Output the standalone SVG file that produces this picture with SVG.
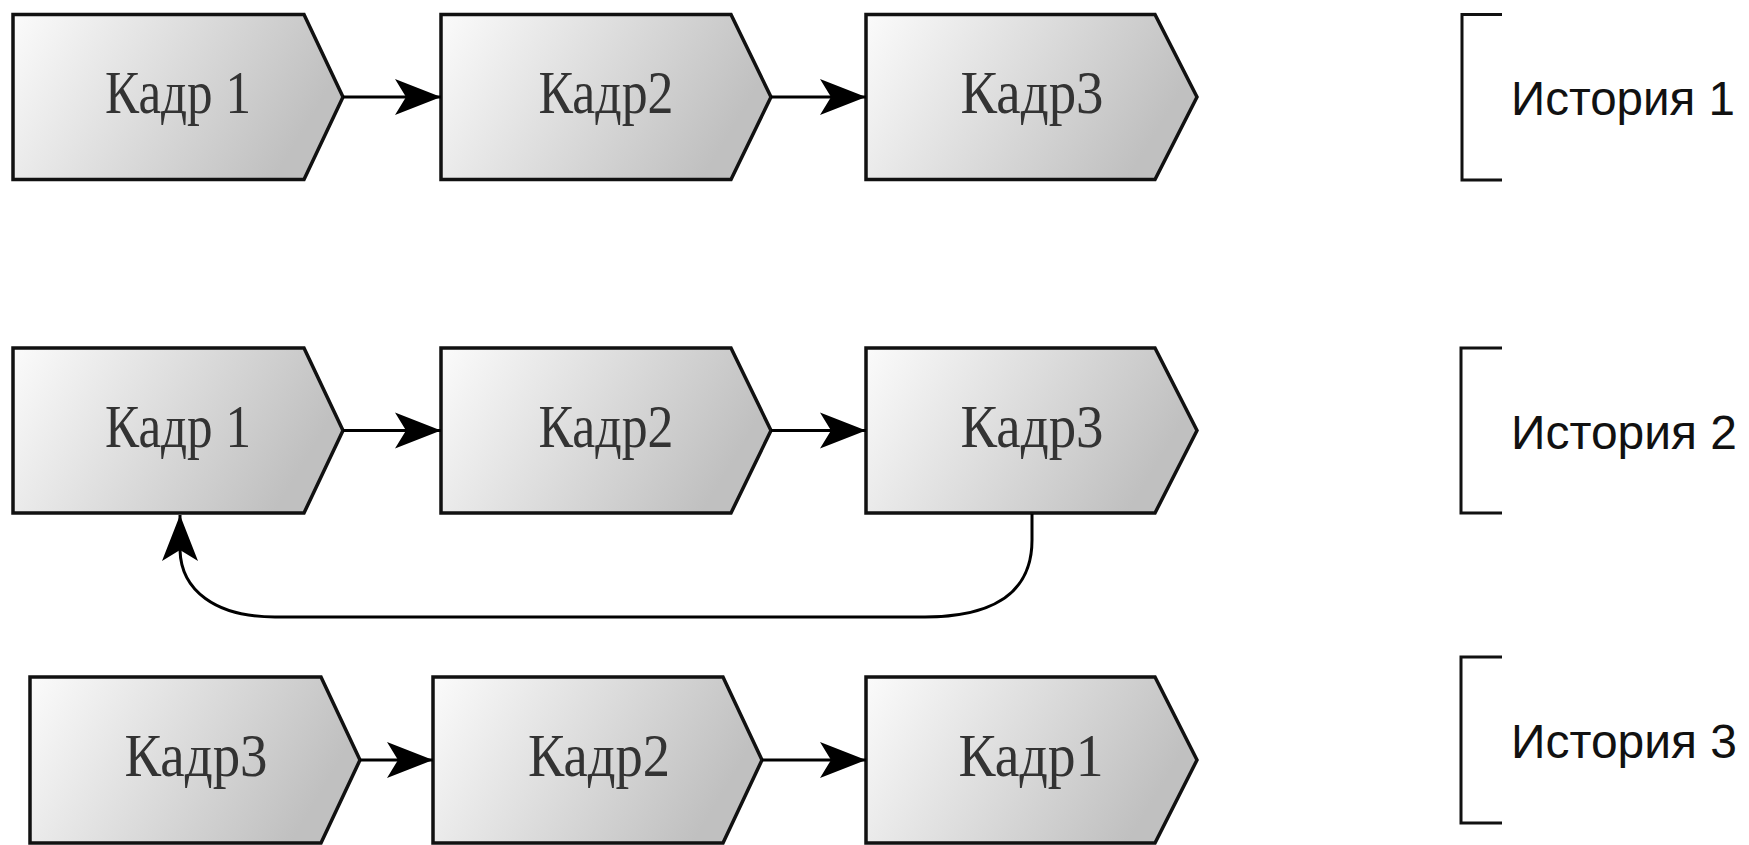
<svg xmlns="http://www.w3.org/2000/svg" width="1749" height="845" viewBox="0 0 1749 845">
<defs>
<linearGradient id="g" x1="0" y1="0" x2="1" y2="0.3">
<stop offset="0" stop-color="#fbfbfb"/>
<stop offset="1" stop-color="#c0c0c0"/>
</linearGradient>
<marker id="ah" markerUnits="userSpaceOnUse" viewBox="-1 -20 49 40" markerWidth="49" markerHeight="40" refX="46" refY="0" orient="auto">
<path d="M0,-18 L46,0 L0,18 L11,0 Z" fill="#000"/>
</marker>
</defs>
<style>
.box{fill:url(#g);stroke:#111;stroke-width:3.5;stroke-linejoin:miter}
.lbl{font-family:"Liberation Serif","DejaVu Serif",serif;font-size:61px;fill:#333;text-anchor:middle}
.con{fill:none;stroke:#000;stroke-width:3}
.br{fill:none;stroke:#111;stroke-width:3}
.hist{font-family:"Liberation Sans",Arial,sans-serif;font-size:48px;fill:#111}
</style>
<rect width="1749" height="845" fill="#fff"/>

<g id="r1b1"><path class="box" d="M13,14.5 H304 L343,97 L304,179.5 H13 Z"/><text class="lbl" x="178" y="113" textLength="146" lengthAdjust="spacingAndGlyphs">Кадр 1</text></g>
<g id="r1b2"><path class="box" d="M441,14.5 H731 L771,97 L731,179.5 H441 Z"/><text class="lbl" x="606" y="113" textLength="135" lengthAdjust="spacingAndGlyphs">Кадр2</text></g>
<g id="r1b3"><path class="box" d="M866,14.5 H1155 L1197,97 L1155,179.5 H866 Z"/><text class="lbl" x="1032" y="113" textLength="143" lengthAdjust="spacingAndGlyphs">Кадр3</text></g>

<g id="r2b1"><path class="box" d="M13,348 H304 L343,430.5 L304,513 H13 Z"/><text class="lbl" x="178" y="447" textLength="146" lengthAdjust="spacingAndGlyphs">Кадр 1</text></g>
<g id="r2b2"><path class="box" d="M441,348 H731 L771,430.5 L731,513 H441 Z"/><text class="lbl" x="606" y="447" textLength="135" lengthAdjust="spacingAndGlyphs">Кадр2</text></g>
<g id="r2b3"><path class="box" d="M866,348 H1155 L1197,430.5 L1155,513 H866 Z"/><text class="lbl" x="1032" y="447" textLength="143" lengthAdjust="spacingAndGlyphs">Кадр3</text></g>

<g id="r3b1"><path class="box" d="M30,677 H321 L360,760 L321,843 H30 Z"/><text class="lbl" x="196" y="776" textLength="143" lengthAdjust="spacingAndGlyphs">Кадр3</text></g>
<g id="r3b2"><path class="box" d="M433,677 H723 L762,760 L723,843 H433 Z"/><text class="lbl" x="599" y="776" textLength="142" lengthAdjust="spacingAndGlyphs">Кадр2</text></g>
<g id="r3b3"><path class="box" d="M866,677 H1155 L1197,760 L1155,843 H866 Z"/><text class="lbl" x="1031" y="776" textLength="145" lengthAdjust="spacingAndGlyphs">Кадр1</text></g>

<g id="connectors">
<path class="con" d="M343,97 H441" marker-end="url(#ah)"/>
<path class="con" d="M771,97 H866" marker-end="url(#ah)"/>
<path class="con" d="M343,430.5 H441" marker-end="url(#ah)"/>
<path class="con" d="M771,430.5 H866" marker-end="url(#ah)"/>
<path class="con" d="M360,760 H433" marker-end="url(#ah)"/>
<path class="con" d="M762,760 H866" marker-end="url(#ah)"/>
<path class="con" d="M1032,514 V540 C1032,598 985,617 925,617 H275 C215,617 181,590 180,550 L180,515" marker-end="url(#ah)"/>
</g>

<g id="story1"><path class="br" d="M1502,14.5 H1462 V180 H1502"/><text class="hist" x="1511" y="115" textLength="224" lengthAdjust="spacingAndGlyphs">История 1</text></g>
<g id="story2"><path class="br" d="M1502,348 H1461 V513 H1502"/><text class="hist" x="1511" y="449" textLength="226" lengthAdjust="spacingAndGlyphs">История 2</text></g>
<g id="story3"><path class="br" d="M1502,657 H1461 V823 H1502"/><text class="hist" x="1511" y="758" textLength="226" lengthAdjust="spacingAndGlyphs">История 3</text></g>
</svg>
